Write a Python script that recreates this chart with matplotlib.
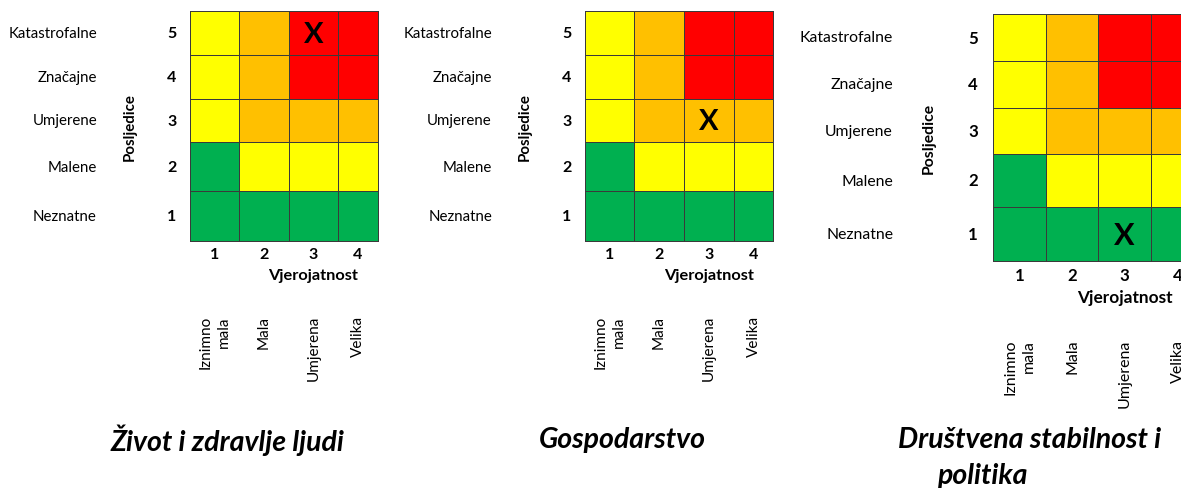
import numpy as np
import matplotlib.pyplot as plt
from matplotlib.colors import ListedColormap

plt.rcParams['font.family'] = ['Lato', 'DejaVu Sans']

# -----------------------------------------------
# Data
# -----------------------------------------------
consequence_labels = ["Katastrofalne", "Značajne", "Umjerene", "Malene", "Neznatne"]
consequence_levels = [5, 4, 3, 2, 1]
likelihood_levels = [1, 2, 3, 4]
likelihood_labels = ["Iznimno\nmala", "Mala", "Umjerena", "Velika"]

# risk class per cell, rows from consequence 5 (top) down to 1
# 0 = green, 1 = yellow, 2 = orange, 3 = red
risk_matrix = [
    [1, 2, 3, 3],
    [1, 2, 3, 3],
    [1, 2, 2, 2],
    [0, 1, 1, 1],
    [0, 0, 0, 0],
]
risk_colors = ["#00B050", "#FFFF00", "#FFC000", "#FF0000"]

panel_titles = ["Život i zdravlje ljudi", "Gospodarstvo", "Društvena stabilnost i", "politika"]
marked_likelihood = [3, 3, 3]
marked_consequence = [5, 3, 1]

# -----------------------------------------------
# Layout (figure pixels, y downwards)
# -----------------------------------------------
panels = [
    dict(left=190, top=12, cols=[49, 50, 49, 40], rows=[44, 44, 43, 49, 50],
         lab_r=97, num_x=172, posl_x=130, fs=1.0),
    dict(left=585, top=12, cols=[49, 50, 50, 39], rows=[44, 44, 43, 49, 50],
         lab_r=492, num_x=567, posl_x=525, fs=1.0),
    dict(left=993, top=15, cols=[53, 52, 53, 53], rows=[47, 47, 46, 53, 54],
         lab_r=893, num_x=973, posl_x=929, fs=1.05),
]

fig = plt.figure(figsize=(11.81, 4.89), dpi=100)
ax = fig.add_axes([0, 0, 1, 1])
ax.set_xlim(0, 1181)
ax.set_ylim(489, 0)
ax.axis("off")

cmap = ListedColormap(risk_colors)

for i, p in enumerate(panels):
    xe = p["left"] + np.concatenate([[0], np.cumsum(p["cols"])])
    ye = p["top"] + np.concatenate([[0], np.cumsum(p["rows"])])
    xc = (xe[:-1] + xe[1:]) / 2
    yc = (ye[:-1] + ye[1:]) / 2
    s = p["fs"]

    ax.pcolormesh(xe, ye, np.array(risk_matrix), cmap=cmap, vmin=-0.5, vmax=3.5,
                  edgecolors="#3a3a3a", linewidth=0.6, zorder=1)

    # marked cell
    cx = xc[likelihood_levels.index(marked_likelihood[i])]
    cy = yc[consequence_levels.index(marked_consequence[i])]
    ax.text(cx, cy + 1, "X", ha="center", va="center", fontsize=21 * s,
            fontweight="bold", color="black", zorder=3)

    # consequence axis
    for lab, lev, y in zip(consequence_labels, consequence_levels, yc):
        ax.text(p["lab_r"], y, lab, ha="right", va="center", fontsize=10.8 * s)
        ax.text(p["num_x"], y, str(lev), ha="center", va="center",
                fontsize=11.5 * s, fontweight="bold")
    ax.text(p["posl_x"], (ye[0] + ye[-1]) / 2, "Posljedice", rotation=90,
            ha="center", va="center", fontsize=10.8 * s, fontweight="bold")

    # likelihood axis
    bottom = ye[-1]
    for lab, lev, x in zip(likelihood_labels, likelihood_levels, xc):
        ax.text(x, bottom + 13 * s, str(lev), ha="center", va="center",
                fontsize=11.5 * s, fontweight="bold")
        ax.text(x, bottom + 74 * s, lab, rotation=90, ha="center", va="top",
                multialignment="right", fontsize=11 * s, linespacing=1.4)
    ax.text(xc[2], bottom + 34 * s, "Vjerojatnost", ha="center", va="center",
            fontsize=11.8 * s, fontweight="bold")

# panel titles
title_pos = [(227, 440), (622, 440), (1030, 440), (982, 476)]
for t, (x, y) in zip(panel_titles, title_pos):
    ax.text(x, y, t, ha="center", va="center", fontsize=20.5,
            fontweight="bold", fontstyle="italic")

fig.savefig("out.png", dpi=100)
